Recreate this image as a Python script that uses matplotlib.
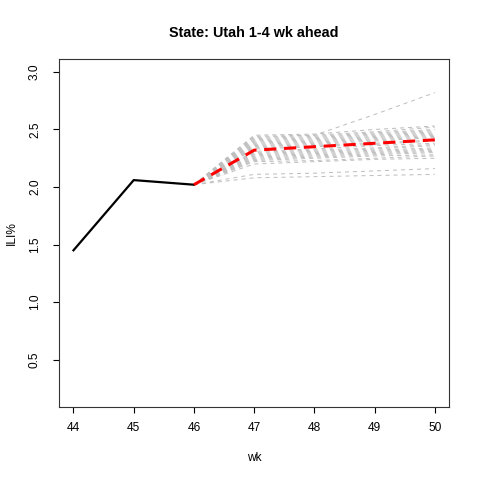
import matplotlib
matplotlib.use("Agg")
import matplotlib.pyplot as plt

# observed weeks / ILI%
obs_wk = [44, 45, 46]
obs_ili = [1.45, 2.06, 2.02]

# forecast weeks
fc_wk = [46, 47, 48, 49, 50]

# mean forecast (red)
fc_mean = [2.02, 2.32, 2.35, 2.38, 2.41]

# individual forecast trajectories (grey), values for wk 46..50
traj = [
    [2.02, 2.45, 2.46, 2.50, 2.53],
    [2.02, 2.44, 2.45, 2.63, 2.82],
    [2.02, 2.43, 2.45, 2.48, 2.52],
    [2.02, 2.42, 2.44, 2.47, 2.50],
    [2.02, 2.41, 2.43, 2.46, 2.49],
    [2.02, 2.40, 2.42, 2.45, 2.48],
    [2.02, 2.39, 2.41, 2.44, 2.47],
    [2.02, 2.38, 2.40, 2.43, 2.46],
    [2.02, 2.37, 2.39, 2.42, 2.45],
    [2.02, 2.36, 2.38, 2.41, 2.44],
    [2.02, 2.35, 2.37, 2.40, 2.43],
    [2.02, 2.34, 2.36, 2.38, 2.41],
    [2.02, 2.33, 2.35, 2.37, 2.40],
    [2.02, 2.31, 2.33, 2.36, 2.38],
    [2.02, 2.30, 2.32, 2.34, 2.37],
    [2.02, 2.29, 2.31, 2.33, 2.36],
    [2.02, 2.28, 2.30, 2.32, 2.34],
    [2.02, 2.27, 2.29, 2.31, 2.33],
    [2.02, 2.26, 2.28, 2.30, 2.32],
    [2.02, 2.25, 2.27, 2.29, 2.31],
    [2.02, 2.24, 2.26, 2.28, 2.30],
    [2.02, 2.23, 2.25, 2.27, 2.28],
    [2.02, 2.22, 2.23, 2.25, 2.27],
    [2.02, 2.20, 2.22, 2.24, 2.25],
    [2.02, 2.11, 2.12, 2.14, 2.16],
    [2.02, 2.08, 2.09, 2.10, 2.11],
]

xticks = [44, 45, 46, 47, 48, 49, 50]
yticks = [0.5, 1.0, 1.5, 2.0, 2.5, 3.0]

plt.rcParams['font.family'] = ['Liberation Sans', 'DejaVu Sans']

fig = plt.figure(figsize=(4.8, 4.8), dpi=100)
ax = fig.add_axes([0.123, 0.152, 0.813, 0.725])

for t in traj:
    ax.plot(fc_wk, t, color='#bebebe', lw=0.72, linestyle=(0, (4, 4)))

ax.plot(obs_wk, obs_ili, color='black', lw=1.6)
ax.plot(fc_wk, fc_mean, color='red', lw=2.2, linestyle=(0, (4, 2.5)))

ax.set_xlim(43.76, 50.24)
ax.set_ylim(0.088, 3.112)
ax.set_xticks(xticks)
ax.set_yticks(yticks)
ax.set_yticklabels([f"{v:.1f}" for v in yticks], rotation=90, va='center')
ax.tick_params(direction='out', length=4.5, width=0.8, labelsize=8.6)
ax.tick_params(axis='x', pad=6)
ax.tick_params(axis='y', pad=8.5)
for s in ax.spines.values():
    s.set_linewidth(0.8)
    s.set_color('#333333')

ax.set_xlabel("wk", fontsize=8.6, labelpad=13)
ax.set_ylabel("ILI%", fontsize=8.6, labelpad=8)
ax.set_title("State: Utah 1-4 wk ahead", fontsize=10.4, fontweight='bold', pad=16)

fig.savefig("out.png", dpi=100)
